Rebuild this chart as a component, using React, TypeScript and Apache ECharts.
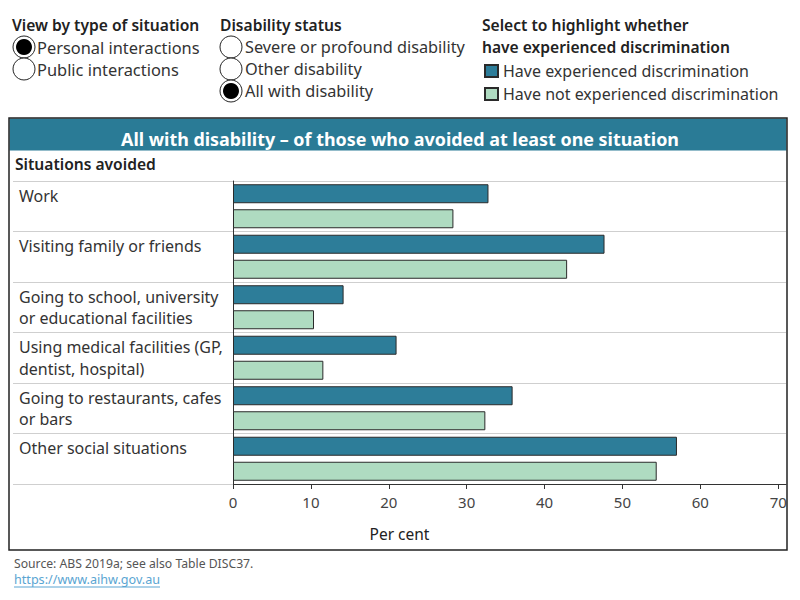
import React, { useEffect, useRef } from "react";
import * as echarts from "echarts";

const categories = [
  "Work",
  "Visiting family or friends",
  "Going to school, university\nor educational facilities",
  "Using medical facilities (GP,\ndentist, hospital)",
  "Going to restaurants, cafes\nor bars",
  "Other social situations",
];
const experienced = [32.8, 47.7, 14.2, 21.0, 35.9, 57.0];
const notExperienced = [28.3, 42.9, 10.4, 11.6, 32.4, 54.4];
const seriesNames = ["Have experienced discrimination", "Have not experienced discrimination"];
const situationOptions = ["Personal interactions", "Public interactions"];
const disabilityOptions = ["Severe or profound disability", "Other disability", "All with disability"];

const FONT = "Noto Sans";
const DARK = "#2d7d99";
const LIGHT = "#afdbc1";
const TITLE_BG = "#2a7b96";

function radio(cx: number, cy: number, selected: boolean) {
  const els: any[] = [
    { type: "circle", shape: { cx, cy, r: 11 }, style: { fill: "#fff", stroke: "#222", lineWidth: 1 } },
  ];
  if (selected) els.push({ type: "circle", shape: { cx, cy, r: 8 }, style: { fill: "#000" } });
  return els;
}

export default function App() {
  const ref = useRef<HTMLDivElement>(null);
  useEffect(() => {
    if (!ref.current) return;
    const chart = echarts.init(ref.current, null, { renderer: "svg" });
    const graphics: any[] = [];
    const txt = (x: number, y: number, text: string, size: number, color: string, weight: any = "normal", align = "left") => ({
      type: "text",
      x,
      y,
      style: { text, fontFamily: FONT, fontSize: size, fill: color, fontWeight: weight, textAlign: align, textVerticalAlign: "middle" },
    });
    graphics.push(txt(12, 25, "View by type of situation", 15.6, "#222", 600));
    situationOptions.forEach((s, i) => {
      graphics.push(...radio(24, 47 + i * 22, i === 0));
      graphics.push(txt(37, 47 + i * 22, s, 16.4, "#333"));
    });
    graphics.push(txt(220, 25, "Disability status", 15.6, "#222", 600));
    disabilityOptions.forEach((s, i) => {
      graphics.push(...radio(231, 47 + i * 22, i === 2));
      graphics.push(txt(245, 47 + i * 22, s, 16.3, "#333"));
    });
    graphics.push(txt(482, 25, "Select to highlight whether", 15.6, "#222", 600));
    graphics.push(txt(482, 47, "have experienced discrimination", 15.6, "#222", 600));
    // box and title bar
    graphics.push({ type: "rect", shape: { x: 9, y: 118, width: 778, height: 432 }, style: { fill: "none", stroke: "#222", lineWidth: 1.5 }, z: 10 });
    graphics.push({ type: "rect", shape: { x: 9.5, y: 118.5, width: 777, height: 32 }, style: { fill: TITLE_BG } });
    graphics.push(txt(400, 139, "All with disability – of those who avoided at least one situation", 17.9, "#fff", "bold", "center"));
    graphics.push(txt(15, 164, "Situations avoided", 15.6, "#222", 600));
    graphics.push(txt(14, 563, "Source: ABS 2019a; see also Table DISC37.", 12.2, "#555"));
    graphics.push(txt(14, 579, "https://www.aihw.gov.au", 12.6, "#5aa5d2"));
    graphics.push({ type: "line", shape: { x1: 14, y1: 587, x2: 160, y2: 587 }, style: { stroke: "#5aa5d2", lineWidth: 1 } });

    chart.setOption({
      animation: false,
      textStyle: { fontFamily: FONT },
      graphic: graphics,
      legend: {
        orient: "vertical",
        left: 484,
        top: 63,
        padding: 0,
        itemWidth: 13,
        itemHeight: 12,
        itemGap: 7,
        icon: "rect",
        selectedMode: false,
        textStyle: { fontFamily: FONT, fontSize: 16, color: "#333" },
        data: seriesNames,
      },
      grid: { left: 233, right: 14, top: 181, bottom: 116, containLabel: false },
      xAxis: {
        type: "value",
        min: 0,
        max: 71,
        interval: 10,
        name: "Per cent",
        nameLocation: "middle",
        nameGap: 42,
        nameTextStyle: { fontFamily: FONT, fontSize: 15.5, color: "#222", padding: [0, 220, 0, 0] },
        axisLine: { show: true, lineStyle: { color: "#333", width: 1 } },
        axisTick: { show: true, length: 5, lineStyle: { color: "#333" } },
        axisLabel: { fontFamily: FONT, fontSize: 15, color: "#444", margin: 10, showMaxLabel: false },
        splitLine: { show: false },
      },
      yAxis: {
        type: "category",
        data: categories,
        inverse: true,
        axisLine: { show: true, lineStyle: { color: "#333", width: 1 } },
        axisTick: { show: true, length: 220, lineStyle: { color: "#cfcfcf" } },
        axisLabel: {
          fontFamily: FONT,
          fontSize: 16,
          color: "#333",
          align: "left",
          margin: 214,
          lineHeight: 21.5,
          padding: [0, 0, 2, 0],
          formatter: (v: string) => (v.indexOf("\n") >= 0 ? v : v + "\n "),
        },
        splitLine: { show: true, lineStyle: { color: "#cfcfcf" } },
      },
      series: [
        {
          name: seriesNames[0],
          type: "bar",
          data: experienced,
          barWidth: 19,
          barGap: "31.6%",
          itemStyle: { color: DARK, borderColor: "#2a2a2a", borderWidth: 1 },
        },
        {
          name: seriesNames[1],
          type: "bar",
          data: notExperienced,
          barWidth: 19,
          itemStyle: { color: LIGHT, borderColor: "#2a2a2a", borderWidth: 1 },
        },
      ],
    });
    return () => chart.dispose();
  }, []);
  return <div ref={ref} style={{ width: 800, height: 600, position: "absolute", left: 0, top: 0 }} />;
}
